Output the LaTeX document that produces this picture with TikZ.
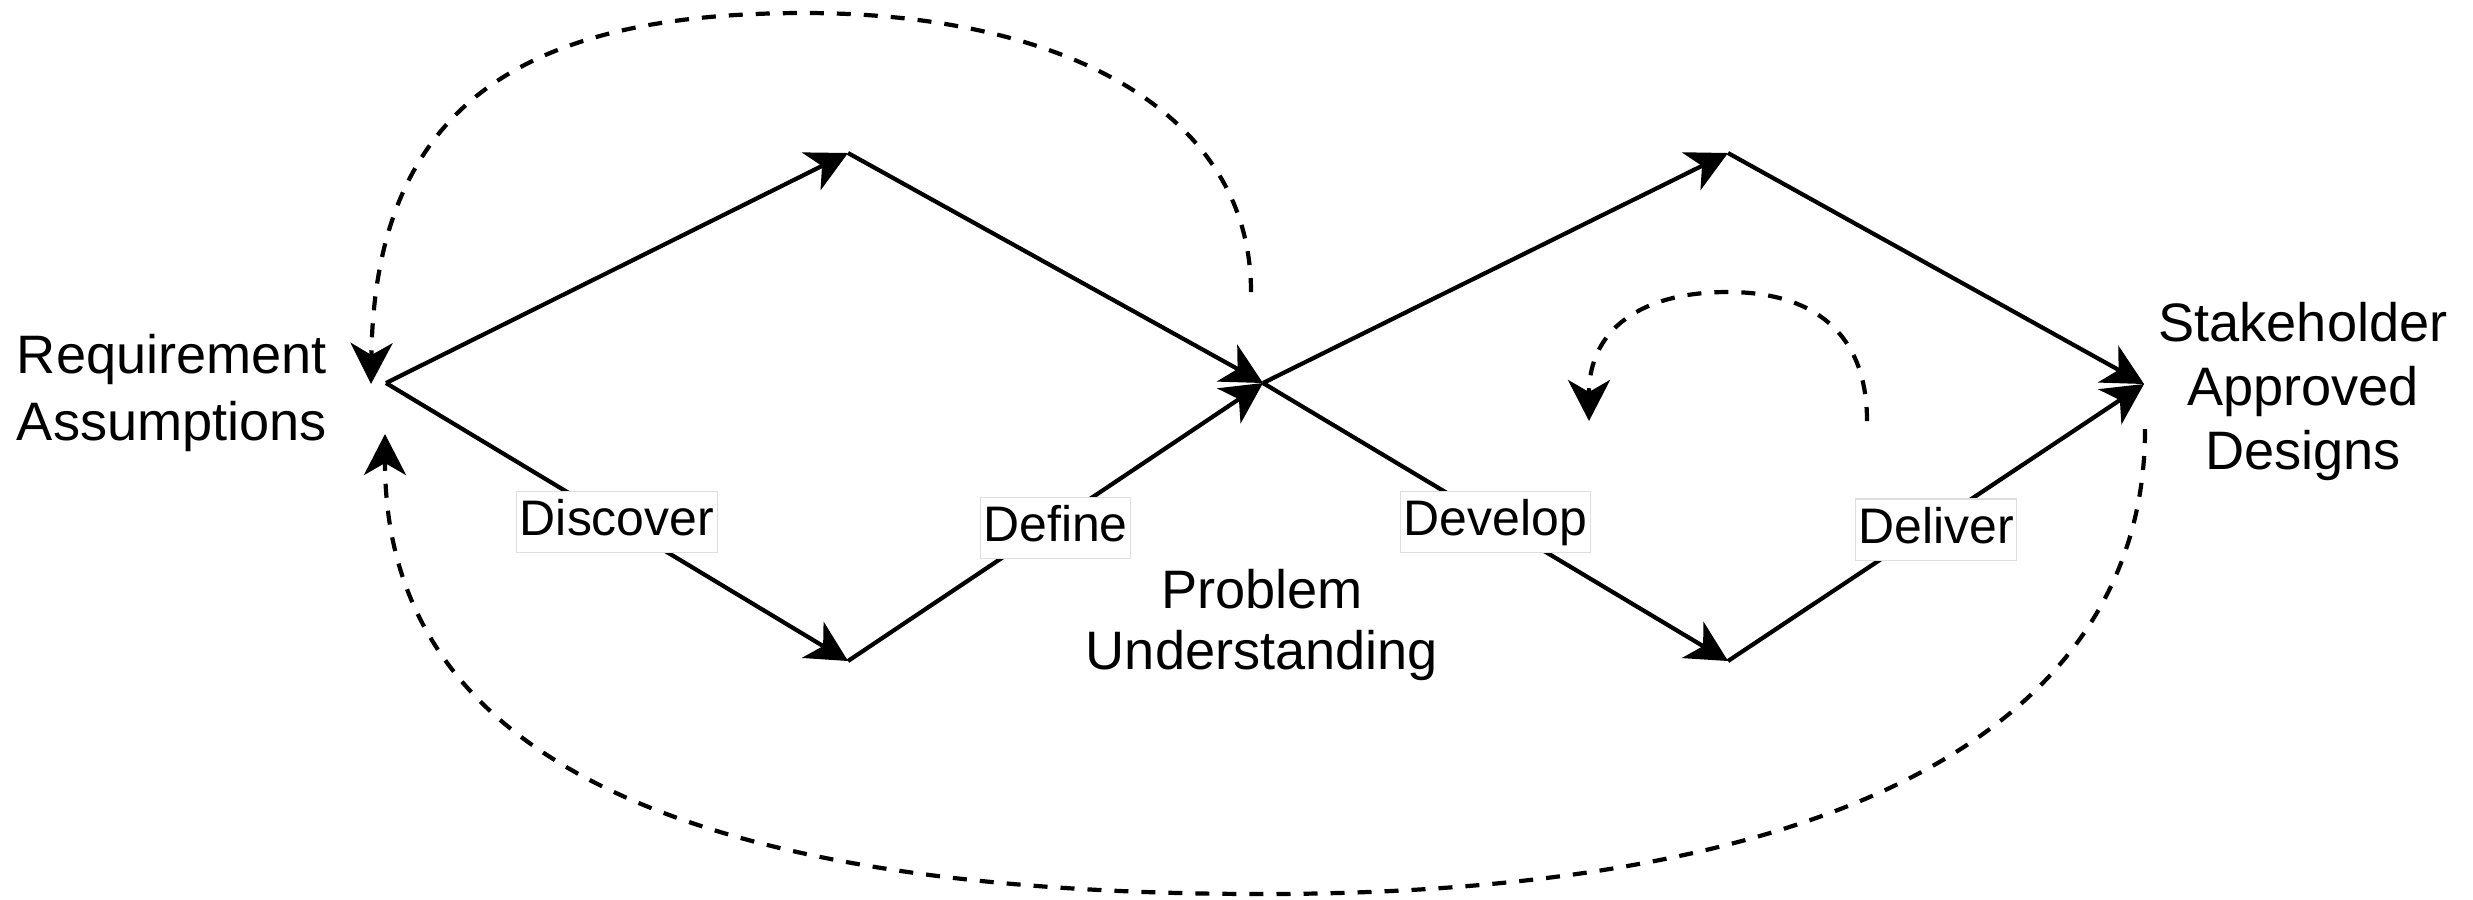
\documentclass[tikz,border=0pt]{standalone}
\usepackage{fontspec}
\setmainfont{Liberation Sans}
\usetikzlibrary{arrows.meta}
\begin{document}
\begin{tikzpicture}[x=0.01cm, y=-0.01cm,
  flow/.style={line width=0.042cm, -{Stealth[length=0.41cm,width=0.42cm,inset=0.12cm]}},
  loopback/.style={flow, dash pattern=on 0.14cm off 0.13cm},
  phase/.style={fill=white, draw=black!13, line width=0.3pt,
    font=\fontsize{14.2}{17}\selectfont, inner xsep=0.03cm, inner ysep=0.07cm,
    text height=0.37cm, text depth=0.1cm},
  stage/.style={align=center, inner sep=0pt}
]
\useasboundingbox (0,0) rectangle (2473,899);

% vertices of the double diamond
\coordinate (L)  at (386,383);
\coordinate (T1) at (848,153);
\coordinate (B1) at (848,661);
\coordinate (M)  at (1263,383);
\coordinate (T2) at (1728,153);
\coordinate (B2) at (1728,661);
\coordinate (R)  at (2144,384);

% end points of the dashed feedback loops
\coordinate (fbAstart) at (1251,292);
\coordinate (fbAend)   at (371,384);
\coordinate (fbBstart) at (2145,429);
\coordinate (fbBend)   at (385,434);
\coordinate (fbCstart) at (1867,421);
\coordinate (fbCend)   at (1589,421);

% stage texts
\node[stage, font=\fontsize{15.4}{18.8}\selectfont] (req) at (172,393) {Requirement\\Assumptions};
\node[stage, font=\fontsize{15.4}{17.1}\selectfont] (prob) at (1262,625) {Problem\\Understanding};
\node[stage, font=\fontsize{15.4}{18.2}\selectfont] (stake) at (2303,391) {Stakeholder\\Approved\\Designs};

% first diamond
\draw[flow] (L) -- (T1);
\draw[flow] (L) -- node[phase] (discover) {Discover} (B1);
\draw[flow] (T1) -- (M);
\draw[flow] (B1) -- node[phase, yshift=-0.06cm] (define) {Define} (M);

% second diamond
\draw[flow] (M) -- (T2);
\draw[flow] (M) -- node[phase] (develop) {Develop} (B2);
\draw[flow] (T2) -- (R);
\draw[flow] (B2) -- node[phase, yshift=-0.07cm] (deliver) {Deliver} (R);

% feedback loops
\draw[loopback] (fbAstart) .. controls (1251,110) and (1060,13) .. (804,13)
  .. controls (530,13) and (375,100) .. (fbAend);
\draw[loopback] (fbBstart) .. controls (2145,720) and (1850,894) .. (1262,894)
  .. controls (650,894) and (385,740) .. (fbBend);
\draw[loopback] (fbCstart) .. controls (1867,330) and (1810,292) .. (1728,292)
  .. controls (1640,292) and (1589,330) .. (fbCend);
\end{tikzpicture}
\end{document}
